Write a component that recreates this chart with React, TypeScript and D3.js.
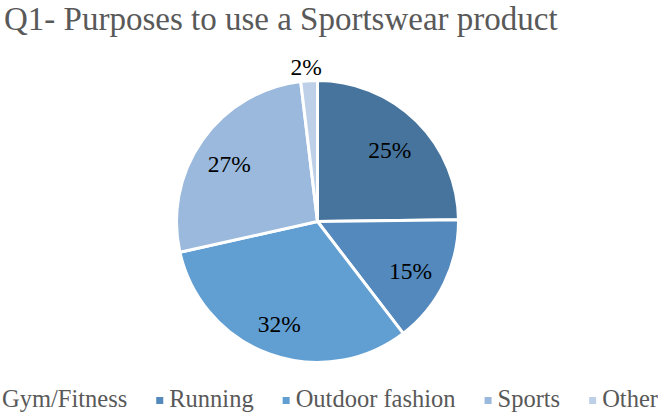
import React from "react";
import * as d3 from "d3";

const categories = ["Gym/Fitness", "Running", "Outdoor fashion", "Sports", "Other"];
const values = [24.8, 14.8, 31.9, 26.6, 1.9];
const labels = ["25%", "15%", "32%", "27%", "2%"];
const colors = ["#46749d", "#5389bc", "#619ed2", "#9ab9dc", "#bed0e8"];
const title = "Q1- Purposes to use a Sportswear product";

const W = 658;
const H = 414;
const FAMILY = "Liberation Serif";

function measure(text: string, size: number): number {
  const c = document.createElement("canvas").getContext("2d");
  if (!c) return text.length * size * 0.5;
  c.font = `${size}px "${FAMILY}"`;
  return c.measureText(text).width;
}

export default function App() {
  const cx = 317.5;
  const cy = 221.5;
  const r = 141;

  const pie = d3
    .pie<number>()
    .sort(null)
    .value((d) => d);
  const arcs = pie(values);
  const arc = d3.arc<d3.PieArcDatum<number>>().innerRadius(0).outerRadius(r);
  const inner = d3.arc<d3.PieArcDatum<number>>().innerRadius(r * 0.75).outerRadius(r * 0.75);
  const outer = d3.arc<d3.PieArcDatum<number>>().innerRadius(r + 17).outerRadius(r + 17);

  const legendSize = 24.5;
  let x = -11;
  const legendItems = categories.map((c, i) => {
    const item = { x, name: c, color: colors[i] };
    x += 13 + measure(c, legendSize) + 29;
    return item;
  });

  const textStyle = (size: number) => ({ fontFamily: `"${FAMILY}"`, fontSize: `${size}px` });

  return (
    <svg
      width={W}
      height={H}
      style={{ position: "absolute", left: 0, top: 0, background: "#ffffff" }}
    >
      <text x={4} y={30} fill="#595959" style={textStyle(33)}>
        {title}
      </text>
      <g transform={`translate(${cx},${cy})`}>
        {arcs.map((a, i) => (
          <path
            key={i}
            d={arc(a) || ""}
            fill={colors[i]}
            stroke="#ffffff"
            strokeWidth={3}
            strokeLinejoin="round"
          />
        ))}
        {arcs.map((a, i) => {
          const c = (a.data < 5 ? outer : inner).centroid(a);
          return (
            <text
              key={"l" + i}
              x={c[0] - 2}
              y={c[1]}
              dy="0.48em"
              textAnchor="middle"
              fill="#000000"
              style={textStyle(23.5)}
            >
              {labels[i]}
            </text>
          );
        })}
      </g>
      <g>
        {legendItems.map((it, i) => (
          <g key={"g" + i}>
            <rect x={it.x} y={397} width={7} height={7} fill={it.color} />
            <text x={it.x + 13} y={407} fill="#595959" style={textStyle(legendSize)}>
              {it.name}
            </text>
          </g>
        ))}
      </g>
    </svg>
  );
}
